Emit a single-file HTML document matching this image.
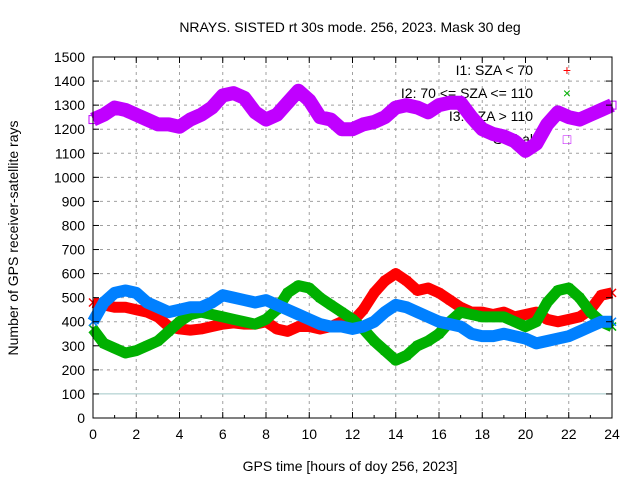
<!DOCTYPE html>
<html><head><meta charset="utf-8"><style>
body{margin:0;background:#fff}
svg text{font-family:"Liberation Sans",sans-serif;font-size:14px;fill:#000}
</style></head><body>
<svg id="chart" width="640" height="480" xmlns="http://www.w3.org/2000/svg">
<g id="grid"></g>
<g id="legend"></g>
<g id="series"></g>
<g id="axes"></g>
<text x="350" y="32" text-anchor="middle">NRAYS. SISTED rt 30s mode. 256, 2023. Mask 30 deg</text>
<text x="350" y="471" text-anchor="middle">GPS time [hours of doy 256, 2023]</text>
<text x="18" y="238" text-anchor="middle" transform="rotate(-90 18 238)">Number of GPS receiver-satellite rays</text>
</svg>
<script>
const hours=[0,0.5,1,1.5,2,2.5,3,3.5,4,4.5,5,5.5,6,6.5,7,7.5,8,8.5,9,9.5,10,10.5,11,11.5,12,12.5,13,13.5,14,14.5,15,15.5,16,16.5,17,17.5,18,18.5,19,19.5,20,20.5,21,21.5,22,22.5,23,23.5,24];
const globalVals=[1240,1260,1290,1280,1260,1240,1220,1220,1210,1240,1260,1290,1340,1350,1330,1270,1240,1260,1310,1360,1320,1250,1240,1200,1200,1220,1230,1250,1290,1300,1290,1270,1300,1310,1310,1250,1200,1180,1170,1150,1110,1140,1220,1270,1250,1240,1260,1280,1300];
const i1Vals=[480,470,460,460,450,440,420,380,370,365,370,380,390,395,390,390,400,370,360,380,380,370,380,400,400,450,520,570,600,570,530,540,520,490,460,440,440,430,440,420,430,440,410,400,410,420,450,510,520];
const i2Vals=[370,310,290,270,280,300,320,360,400,430,440,430,420,410,400,390,410,450,520,550,540,500,470,440,410,370,320,280,240,260,300,320,350,400,440,430,420,420,420,400,380,400,480,530,540,500,440,400,380];
const i3Vals=[400,480,520,530,520,480,460,440,450,460,460,480,510,500,490,480,490,470,450,430,410,390,380,380,370,380,400,440,470,460,440,420,400,390,380,350,340,340,350,340,330,310,320,330,340,360,380,400,400];
const xTicks=[0,2,4,6,8,10,12,14,16,18,20,22,24];
const yTicks=[0,100,200,300,400,500,600,700,800,900,1000,1100,1200,1300,1400,1500];
const legendLabels=["I1: SZA < 70","I2: 70 <= SZA <= 110","I3: SZA > 110","Global"];

const NS="http://www.w3.org/2000/svg";
const X0=93,X1=612,Y0=418,Y1=57;
const xs=h=>X0+h*(X1-X0)/24;
const ys=v=>Y0-v*(Y0-Y1)/1500;
function mk(tag,attrs,parent){const e=document.createElementNS(NS,tag);for(const k in attrs)e.setAttribute(k,attrs[k]);parent.appendChild(e);return e;}
const grid=document.getElementById('grid'),axes=document.getElementById('axes'),series=document.getElementById('series'),legend=document.getElementById('legend');

xTicks.forEach(t=>{
  if(t>0&&t<24){const l=mk('line',{x1:xs(t),x2:xs(t),y1:Y0,y2:Y1,stroke:'#a0a0a0','stroke-dasharray':'3,4'},grid);
  
  }
  const tx=mk('text',{x:xs(t),y:Y0+21,'text-anchor':'middle'},axes);tx.textContent=t;
  
  
  mk('line',{x1:xs(t),x2:xs(t),y1:Y0,y2:Y0-6,stroke:'#000'},axes);
  mk('line',{x1:xs(t),x2:xs(t),y1:Y1,y2:Y1+6,stroke:'#000'},axes);
  if(t<24){mk('line',{x1:xs(t+1),x2:xs(t+1),y1:Y0,y2:Y0-3,stroke:'#000'},axes);mk('line',{x1:xs(t+1),x2:xs(t+1),y1:Y1,y2:Y1+3,stroke:'#000'},axes);}
});
yTicks.forEach(t=>{
  if(t>0&&t<1500&&t!==100){const l=mk('line',{x1:X0,x2:X1,y1:ys(t),y2:ys(t),stroke:'#a0a0a0','stroke-dasharray':'3,4'},grid);
  
  }
  const tx=mk('text',{x:X0-8,y:ys(t)+5,'text-anchor':'end'},axes);tx.textContent=t;
  
  
  mk('line',{x1:X0,x2:X0+6,y1:ys(t),y2:ys(t),stroke:'#000'},axes);
  mk('line',{x1:X1,x2:X1-6,y1:ys(t),y2:ys(t),stroke:'#000'},axes);
});
const ref=mk('line',{x1:X0,x2:X1,y1:ys(100),y2:ys(100),stroke:'#a0c8c8'},grid);


const frame=mk('rect',{x:X0,y:Y1,width:X1-X0,height:Y0-Y1,fill:'none',stroke:'#000'},axes);



const colors=['#ff0000','#00b000','#0080ff','#c000ff'];
const glyphs=['+','×','✱','□'];
legendLabels.forEach((lab,i)=>{
  const y=75+i*23;
  const t=mk('text',{x:533,y:y,'text-anchor':'end'},legend);t.textContent=lab;
  
  
  const g=mk('text',{x:567,y:y,'text-anchor':'middle',style:'fill:'+colors[i]},legend);g.textContent=glyphs[i];
  
  
});

function drawSeries(vals,color,name,width,kind){
  const g=mk('g',{},series);
  
  
  const pts=hours.map((h,i)=>xs(h)+','+ys(vals[i])).join(' ');
  const pl=mk('polyline',{points:pts,fill:'none',stroke:color,'stroke-width':width,'stroke-linejoin':'round','stroke-linecap':'butt'},g);
  
  
  hours.forEach((h,i)=>{
    const x=xs(h),y=ys(vals[i]);
    let m;
    if(kind==='box'){m=mk('rect',{x:x-4,y:y-4,width:8,height:8,fill:'none',stroke:color},g);}
    else{m=mk('path',{d:`M${x-4},${y-4}L${x+4},${y+4}M${x-4},${y+4}L${x+4},${y-4}`,stroke:color,'stroke-width':1.5},g);}
    
    
  });
}
drawSeries(i1Vals,colors[0],'series-i1',11,'x');
drawSeries(i2Vals,colors[1],'series-i2',11,'x');
drawSeries(i3Vals,colors[2],'series-i3',12,'x');
drawSeries(globalVals,colors[3],'series-global',14,'box');
</script>
</body></html>
